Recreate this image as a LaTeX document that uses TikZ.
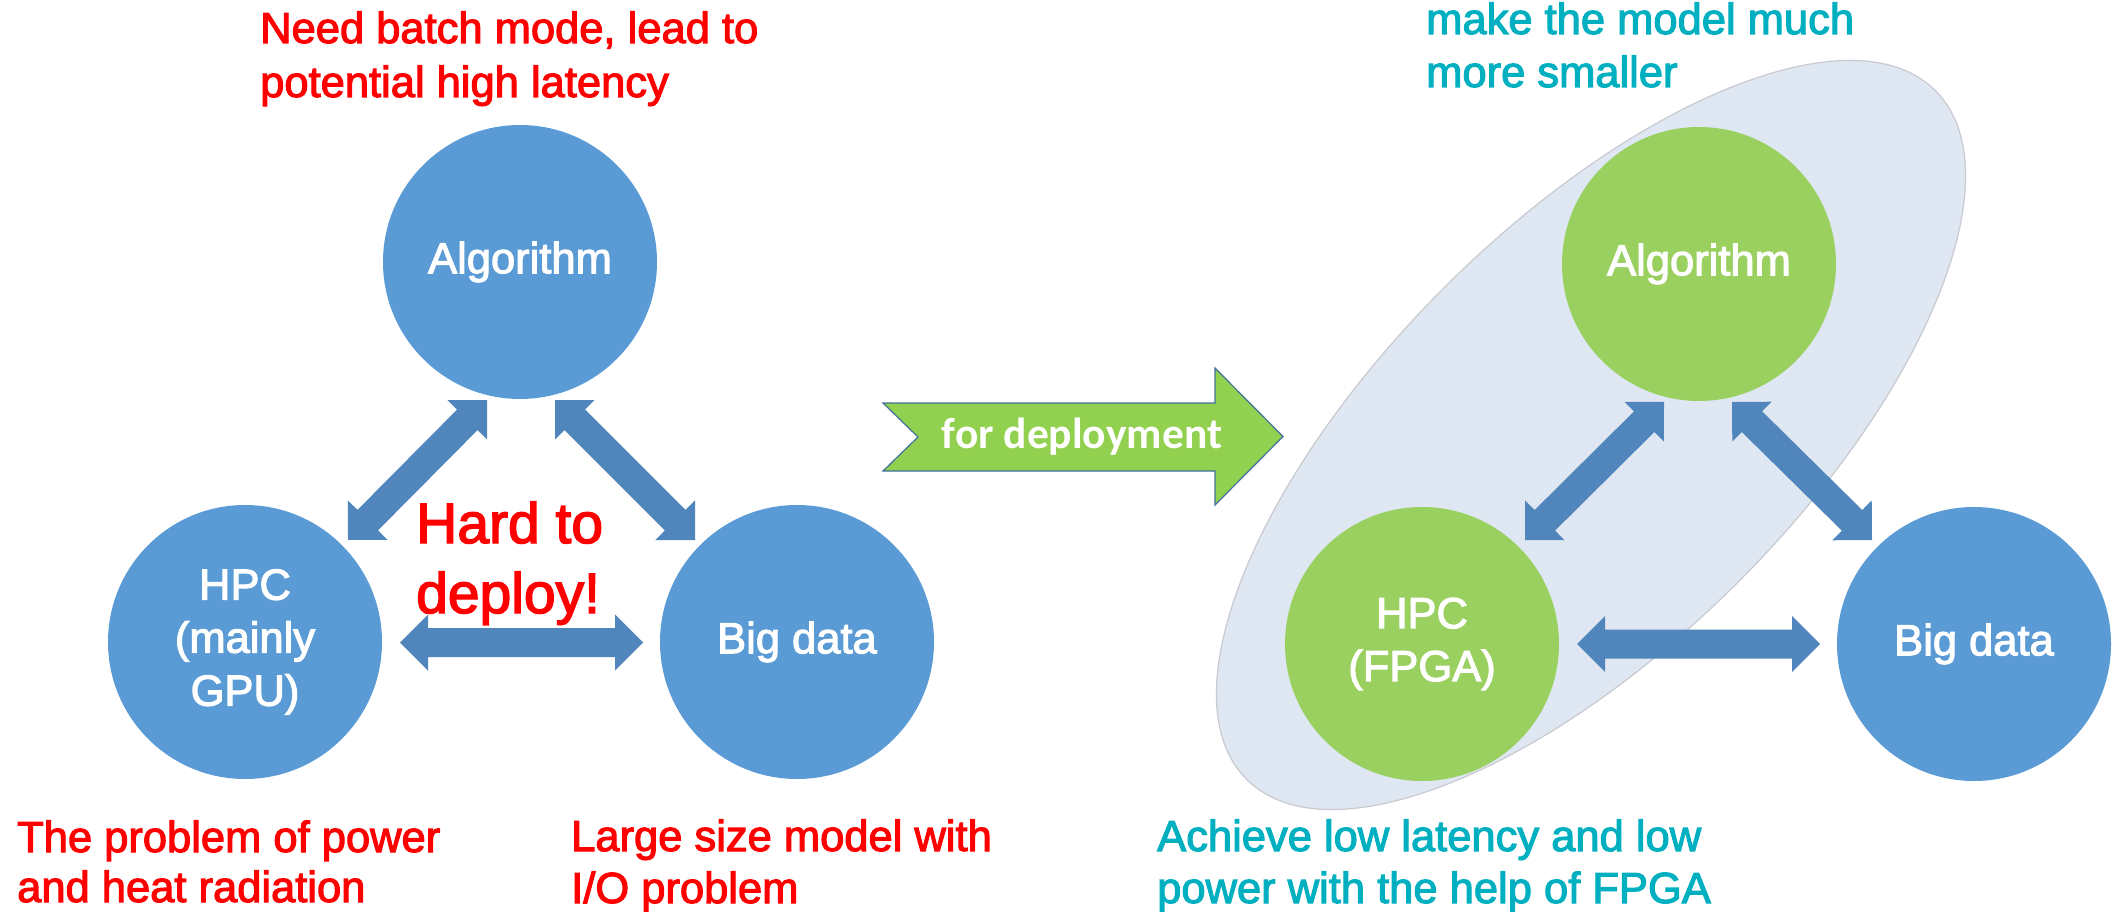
\documentclass[tikz,border=0pt]{standalone}
\usepackage{fontspec}
\setmainfont{Liberation Sans}
\newfontfamily\heavysans{Liberation Sans}[FakeBold=2.5]
\newfontfamily\labelsans{Carlito}
\usetikzlibrary{calc}

\definecolor{nodeblue}{RGB}{91,155,213}
\definecolor{nodegreen}{RGB}{153,208,96}
\definecolor{linkblue}{RGB}{80,134,187}
\definecolor{deployfill}{RGB}{146,208,80}
\definecolor{deployedge}{RGB}{65,113,156}
\definecolor{groupfill}{RGB}{223,231,243}
\definecolor{groupline}{RGB}{200,202,208}
\definecolor{alertred}{RGB}{255,0,0}
\definecolor{goodteal}{RGB}{0,176,192}

\tikzset{
  blob/.style={circle, minimum size=274, inner sep=0, text=white, align=center,
    font=\heavysans\fontsize{43.5}{53}\selectfont},
  bluenode/.style={blob, fill=nodeblue},
  greennode/.style={blob, fill=nodegreen},
  note/.style={anchor=base west, inner sep=0, font=\heavysans\fontsize{43.5}{#1}\selectfont},
  note/.default=52,
}

% double-headed block arrow between two named points
\newcommand\blockarrow[2]{%
  \fill[linkblue] let \p1=($(#2)-(#1)$), \n1={atan2(\y1,\x1)}, \n2={veclen(\x1,\y1)} in
    [shift={(#1)}, rotate=\n1]
    (0,0) -- (28,28) -- (28,14.5) -- (\n2-28,14.5) -- (\n2-28,28) -- (\n2,0)
    -- (\n2-28,-28) -- (\n2-28,-14.5) -- (28,-14.5) -- (28,-28) -- cycle;}

\begin{document}
\begin{tikzpicture}[x=1pt,y=-1pt]
\useasboundingbox (0,0) rectangle (2112,912);
\fill[white] (0,0) rectangle (2112,912);

% group of optimised parts
\draw[groupline, fill=groupfill, line width=1.2]
  (1591,435) ellipse [x radius=487, y radius=208, rotate=45];

% nodes, current setting
\node[bluenode] (algL) at (520,262) {Algorithm};
\node[bluenode] (hpcL) at (245,642) {HPC\\(mainly\\GPU)};
\node[bluenode] (bigL) at (797,642) {Big data};

% nodes, deployed setting
\node[greennode] (algR) at (1699,264) {Algorithm};
\node[greennode] (hpcR) at (1422,644) {HPC\\(FPGA)};
\node[bluenode] (bigR) at (1974,644) {Big data};

% arrow end points
\coordinate (aL1) at ($(algL)+(-33,138)$);
\coordinate (hL1) at ($(hpcL)+(103,-102)$);
\coordinate (aL2) at ($(algL)+(35,138)$);
\coordinate (bL2) at ($(bigL)+(-102,-102)$);
\coordinate (hL3) at ($(hpcL)+(155,0.5)$);
\coordinate (bL3) at ($(bigL)+(-154,0.5)$);

\coordinate (aR1) at ($(algR)+(-35,138)$);
\coordinate (hR1) at ($(hpcR)+(103,-104)$);
\coordinate (aR2) at ($(algR)+(33,138)$);
\coordinate (bR2) at ($(bigR)+(-102,-104)$);
\coordinate (hR3) at ($(hpcR)+(155,0)$);
\coordinate (bR3) at ($(bigR)+(-154,0)$);

\blockarrow{aL1}{hL1}
\blockarrow{aL2}{bL2}
\blockarrow{hL3}{bL3}
\blockarrow{aR1}{hR1}
\blockarrow{aR2}{bR2}
\blockarrow{hR3}{bR3}

% transition arrow
\filldraw[fill=deployfill, draw=deployedge, line width=1.2]
  (883,403) -- (1215,403) -- (1215,368) -- (1283,436.5) -- (1215,505)
  -- (1215,471) -- (883,471) -- (918,437) -- cycle;
\node[anchor=base, inner sep=0, text=white,
  font=\labelsans\bfseries\fontsize{43.5}{52}\selectfont] (deploy) at (1082,448) {for deployment};

% remarks
\node[note=54, text=alertred] (batch) at (260,43)
  {\begin{tabular}[t]{@{}l@{}}Need batch mode, lead to\\potential high latency\end{tabular}};
\node[note=50, text=alertred] (power) at (17,852)
  {\begin{tabular}[t]{@{}l@{}}The problem of power\\and heat radiation\end{tabular}};
\node[note, text=alertred] (iosize) at (571,851)
  {\begin{tabular}[t]{@{}l@{}}Large size model with\\I/O problem\end{tabular}};
\node[anchor=base west, inner sep=0, text=alertred, font=\heavysans\fontsize{57}{70}\selectfont] (hard) at (416,543)
  {\begin{tabular}[t]{@{}l@{}}Hard to\\deploy!\end{tabular}};

\node[note=53, text=goodteal] (smaller) at (1426,34)
  {\begin{tabular}[t]{@{}l@{}}make the model much\\more smaller\end{tabular}};
\node[note, text=goodteal] (lowlat) at (1157,851)
  {\begin{tabular}[t]{@{}l@{}}Achieve low latency and low\\power with the help of FPGA\end{tabular}};
\end{tikzpicture}
\end{document}
